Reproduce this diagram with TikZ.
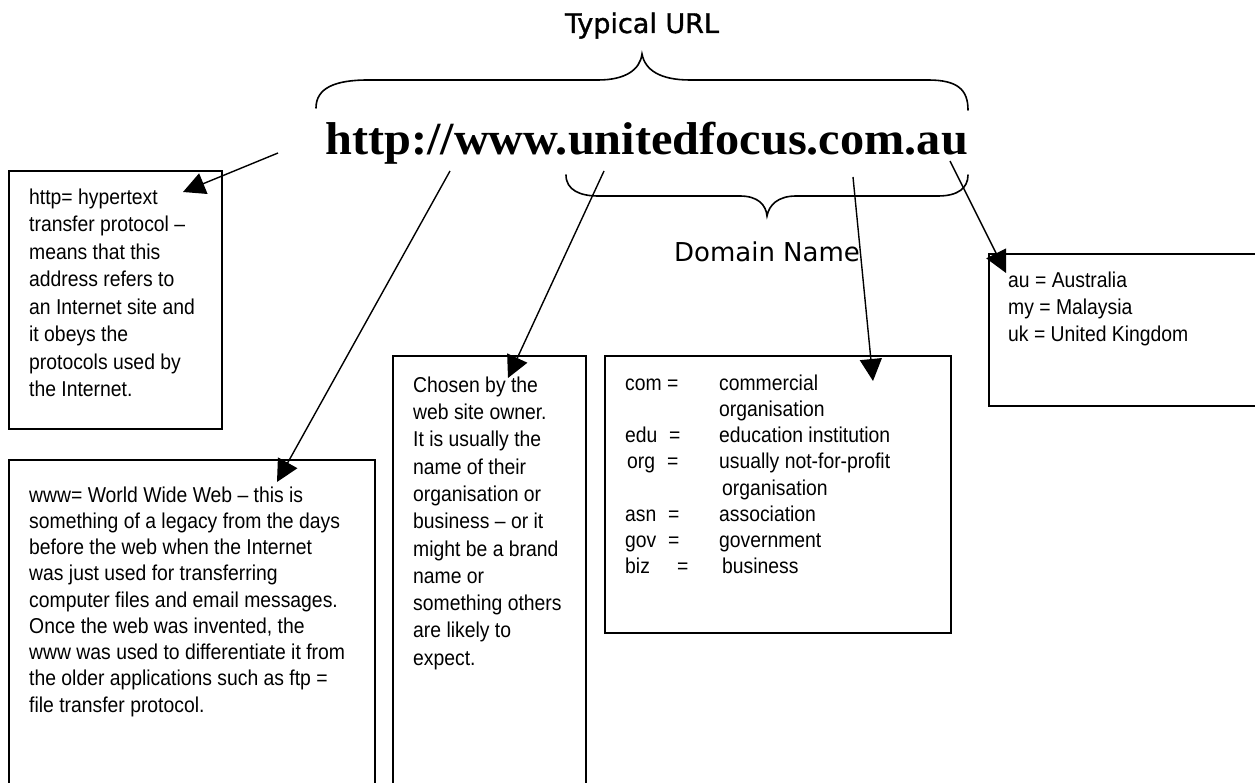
\documentclass[tikz,border=0pt]{standalone}
\usepackage{fontspec}
\setmainfont{Liberation Sans}[FakeStretch=0.9]
\newfontfamily\urlfont{Liberation Serif}
\newfontfamily\headfont{DejaVu Sans}
\newfontfamily\titlefont{DejaVu Sans}[FakeBold=1.2]
\usetikzlibrary{arrows.meta}
\tikzset{
  box/.style={draw=black, line width=1.7pt, fill=none, inner sep=0pt},
  txt/.style={anchor=north west, inner sep=0pt, align=left},
  arr/.style={line width=1.4pt, -{Triangle[length=22pt,width=22pt]}},
  brace/.style={line width=1.6pt, line cap=round}
}
\begin{document}
\begin{tikzpicture}[x=1pt, y=-1pt]
\useasboundingbox (0,0) rectangle (1255,783);
% headings
\node[font=\titlefont\fontsize{27}{30}\selectfont, anchor=base, inner sep=0pt] (title) at (642,33) {Typical URL};
\node[font=\urlfont\bfseries\fontsize{46}{50}\selectfont, anchor=base west, inner sep=0pt] (url) at (325,155) {\scalebox{1.05}[1]{http://www.unitedfocus.com.au}};
\node[font=\headfont\fontsize{26}{30}\selectfont, anchor=base, inner sep=0pt] (dom) at (767,262) {Domain Name};
% braces
\draw[brace] (316,108) .. controls (316,88) and (335,80) .. (368,80) -- (598,80)
  .. controls (625,80) and (640,70) .. (642,54)
  .. controls (645,70) and (660,80) .. (690,80) -- (928,80)
  .. controls (958,80) and (968,90) .. (968,110);
\draw[brace] (566,175) .. controls (566,190) and (580,196) .. (598,196) -- (740,196)
  .. controls (758,196) and (766,205) .. (767,216)
  .. controls (769,205) and (778,196) .. (796,196) -- (938,196)
  .. controls (958,196) and (968,188) .. (968,175);
% boxes
\node[box, anchor=north west, minimum width=213pt, minimum height=258pt] (boxA) at (8,170) {};
\node[box, anchor=north west, minimum width=366pt, minimum height=340pt] (boxB) at (8,459) {};
\node[box, anchor=north west, minimum width=193pt, minimum height=440pt] (boxC) at (392,355) {};
\node[box, anchor=north west, minimum width=346pt, minimum height=277pt] (boxD) at (604,355) {};
\node[box, anchor=north west, minimum width=290pt, minimum height=152pt] (boxE) at (988,253) {};
% texts
\node[txt, font=\fontsize{21.5}{27.5}\selectfont] (tA) at (29,184) {\rule{0pt}{20pt}http= hypertext\\
transfer protocol --\\
means that this\\
address refers to\\
an Internet site and\\
it obeys the\\
protocols used by\\
the Internet.};
\node[txt, font=\fontsize{21.5}{26.25}\selectfont] (tB) at (29,482) {\rule{0pt}{20pt}www= World Wide Web -- this is\\
something of a legacy from the days\\
before the web when the Internet\\
was just used for transferring\\
computer files and email messages.\\
Once the web was invented, the\\
www was used to differentiate it from\\
the older applications such as ftp =\\
file transfer protocol.};
\node[txt, font=\fontsize{21.5}{27.3}\selectfont] (tC) at (413,372) {\rule{0pt}{20pt}Chosen by the\\
web site owner.\\
It is usually the\\
name of their\\
organisation or\\
business -- or it\\
might be a brand\\
name or\\
something others\\
are likely to\\
expect.};
\node[txt, font=\fontsize{21.5}{26.2}\selectfont] (tD) at (625,370) {\rule{0pt}{20pt}\makebox[42pt][l]{com}\makebox[52pt][l]{=}commercial\\
\hspace*{94pt}organisation\\
\makebox[44pt][l]{edu}\makebox[50pt][l]{=}education institution\\
\hspace*{2pt}\makebox[40pt][l]{org}\makebox[52pt][l]{=}usually not-for-profit\\
\hspace*{97pt}organisation\\
\makebox[43pt][l]{asn}\makebox[51pt][l]{=}association\\
\makebox[43pt][l]{gov}\makebox[51pt][l]{=}government\\
\makebox[52pt][l]{biz}\makebox[45pt][l]{=}business};
\node[txt, font=\fontsize{21.5}{27.3}\selectfont] (tE) at (1008,267) {\rule{0pt}{20pt}au = Australia\\
my = Malaysia\\
uk = United Kingdom};
% connectors
\coordinate (sA) at (278,153); \coordinate (eA) at (183,192);
\coordinate (sB) at (450,171); \coordinate (eB) at (277,482);
\coordinate (sC) at (604,171); \coordinate (eC) at (508,378);
\coordinate (sD) at (853,177); \coordinate (eD) at (873,381);
\coordinate (sE) at (950,161); \coordinate (eE) at (1006,273);
\draw[arr] (sA) -- (eA);
\draw[arr] (sB) -- (eB);
\draw[arr] (sC) -- (eC);
\draw[arr] (sD) -- (eD);
\draw[arr] (sE) -- (eE);
\end{tikzpicture}
\end{document}
